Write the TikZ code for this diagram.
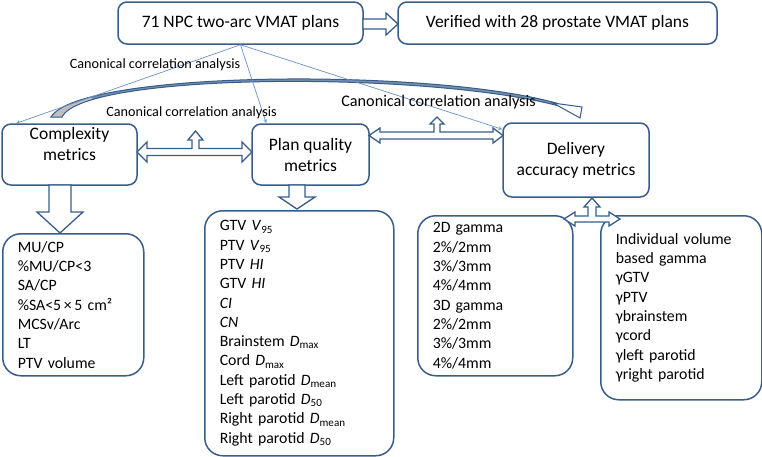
\documentclass[tikz,border=0pt]{standalone}
\usepackage{fontspec}
\setmainfont{Carlito}
\usepackage{tikz}
\definecolor{dblue}{RGB}{56,93,138}
\definecolor{lblue}{RGB}{104,146,200}

\begin{document}
\begin{tikzpicture}[x=1pt, y=-1pt,
	box/.style={draw=dblue, line width=1.5pt, rounded corners=9pt, fill=white, align=center, inner ysep=0pt, font=\fontsize{17.5}{21}\selectfont},
	listbox/.style={draw=dblue, line width=1.5pt, rounded corners=18pt, fill=white, anchor=north west, align=left, inner xsep=15pt, inner ysep=0pt, font=\fontsize{15.8}{19.3}\selectfont},
	cca/.style={font=\fontsize{14.2}{16}\selectfont},
	cclink/.style={draw=lblue, line width=0.7pt, -stealth},
	blockarrow/.style={draw=dblue, line width=1.3pt, fill=white, line join=miter}]
	\useasboundingbox (0,0) rectangle (762,456);

	% big curved arrow
	\begin{scope}
		\clip (51,117) .. controls (80,70) and (430,68) .. (556,103) -- (561,106.5) .. controls (430,71) and (84,72) .. (62,117) -- cycle;
		\fill[dblue!70] (40,60) rectangle (570,120);
		\fill[gray!50] (40,60) rectangle (92,120);
	\end{scope}
	\draw[dblue, line width=1pt] (51,117) .. controls (80,70) and (430,68) .. (556,103) -- (561,106.5) .. controls (430,71) and (84,72) .. (62,117) -- cycle;
	\draw[draw=dblue, line width=1pt, fill=white] (553,103) -- (582,107) -- (580,118) -- cycle;

	\node[box, minimum width=245pt, minimum height=42pt] (plans) at (240.5,23) {71 NPC two-arc VMAT plans};
	\node[box, minimum width=319pt, minimum height=42pt] (verif) at (557.5,23) {Verified with 28 prostate VMAT plans};
	\node[box, minimum width=135pt, minimum height=61pt] (cx) at (69.5,154.5) {Complexity\\metrics\\\mbox{}};
	\node[box, minimum width=117pt, minimum height=61pt] (pq) at (310.5,154.5) {Plan quality\\metrics};
	\node[box, minimum width=146pt, minimum height=74pt] (da) at (576,160) {Delivery\\accuracy metrics};

	\foreach \tgt/\dx/\dy in {cx/15/0, pq/15/0, da/0/-7}
		\draw[cclink] (plans.south) -- ([xshift=\dx pt, yshift=\dy pt]\tgt.north west);

	\node[listbox, text width=111pt, minimum height=142pt] (cxlist) at (2,233) {MU/CP\\\%MU/CP<3\\SA/CP\\\%SA<5\,×\,5 cm²\\MCSv/Arc\\LT\\PTV volume};
	\node[listbox, text width=159pt, minimum height=245pt] (pqlist) at (204,210) {GTV \textit{V}\textsubscript{95}\\PTV \textit{V}\textsubscript{95}\\PTV \textit{HI}\\GTV \textit{HI}\\\textit{CI}\\\textit{CN}\\Brainstem \textit{D}\textsubscript{max}\\Cord \textit{D}\textsubscript{max}\\Left parotid \textit{D}\textsubscript{mean}\\Left parotid \textit{D}\textsubscript{50}\\Right parotid \textit{D}\textsubscript{mean}\\Right parotid \textit{D}\textsubscript{50}};
	\node[listbox, text width=125pt, minimum height=160pt] (gamma) at (417,215) {2D gamma\\2\%/2mm\\3\%/3mm\\4\%/4mm\\3D gamma\\2\%/2mm\\3\%/3mm\\4\%/4mm};
	\node[listbox, text width=131pt, minimum height=184pt] (volgamma) at (600,215) {Individual volume\\based gamma\\γGTV\\γPTV\\γbrainstem\\γcord\\γleft parotid\\γright parotid};

	% block arrows
	\draw[blockarrow] (363,19) -- (386,19) -- (386,13) -- (398,24) -- (386,35) -- (386,29) -- (363,29) -- cycle;
	\draw[blockarrow] (137,152) -- (147,142) -- (147,148.5) -- (192,148.5) -- (192,140) -- (188,140) -- (195.5,131) -- (203,140) -- (199,140) -- (199,148.5) -- (242,148.5) -- (242,142) -- (252,152) -- (242,162) -- (242,155.5) -- (147,155.5) -- (147,162) -- cycle;
	\draw[blockarrow] (369,135.5) -- (380,128) -- (380,132) -- (434,132) -- (434,124) -- (430,124) -- (437,117) -- (444,124) -- (440,124) -- (440,132) -- (493,132) -- (493,128) -- (503,135.5) -- (493,143) -- (493,139) -- (380,139) -- (380,143) -- cycle;
	\draw[blockarrow] (564,219) -- (575,212) -- (575,216) -- (588,216) -- (588,207) -- (584,207) -- (592,198) -- (600,207) -- (596,207) -- (596,216) -- (609,216) -- (609,212) -- (620,219) -- (609,226) -- (609,222) -- (575,222) -- (575,226) -- cycle;
	\draw[blockarrow] (49,185) -- (49,212) -- (37,212) -- (60,233) -- (83,212) -- (71,212) -- (71,185) -- cycle;
	\draw[blockarrow] (289,185) -- (289,197) -- (279,197) -- (297,209) -- (315,197) -- (305,197) -- (305,185) -- cycle;

	\node[cca] (cca1) at (155,65) {Canonical correlation analysis};
	\node[cca] (cca2) at (191.5,113) {Canonical correlation analysis};
	\node[cca, font=\fontsize{16.2}{18}\selectfont] (cca3) at (438.5,102) {Canonical correlation analysis};
\end{tikzpicture}
\end{document}
